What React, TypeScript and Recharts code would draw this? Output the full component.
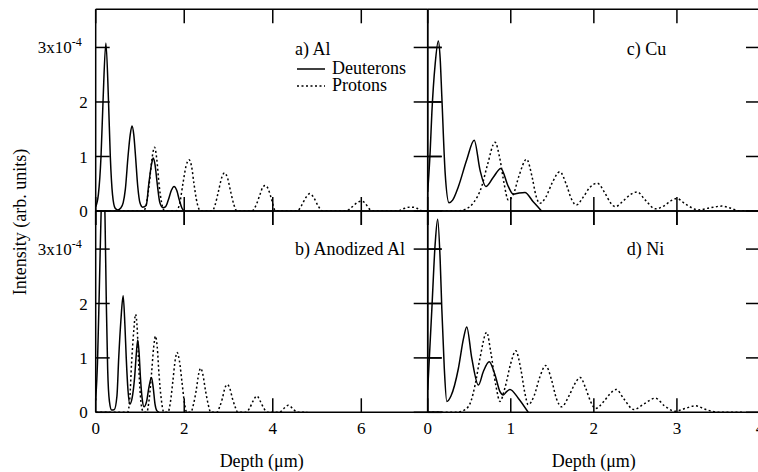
import { Line, LineChart, XAxis, YAxis } from "recharts";

type Pt = [number, number];

// depth (µm), intensity (x1e-4 arb. units)
const alDeuterons: Pt[] = [
  [0, 0.08], [0.06, 0.3], [0.12, 1.0], [0.165, 2.0], [0.23, 3.08], [0.29, 2.0], [0.33, 1.0], [0.38, 0.3], [0.44, 0.05], [0.5, 0.02],
  [0.56, 0.05], [0.62, 0.15], [0.67, 0.4], [0.73, 1.0], [0.78, 1.4], [0.82, 1.56], [0.86, 1.4], [0.9, 1.0], [0.95, 0.45], [1.0, 0.15], [1.06, 0.07],
  [1.14, 0.1], [1.2, 0.5], [1.26, 0.85], [1.3, 0.97], [1.34, 0.85], [1.39, 0.5], [1.45, 0.15], [1.52, 0.06],
  [1.58, 0.08], [1.64, 0.2], [1.71, 0.38], [1.77, 0.45], [1.83, 0.38], [1.89, 0.2], [1.95, 0.05], [2.0, 0],
];
const alProtons: Pt[] = [
  [0, 0], [1.08, 0], [1.15, 0.15], [1.21, 0.5], [1.27, 0.95], [1.33, 1.17], [1.38, 0.95], [1.43, 0.5], [1.49, 0.15], [1.56, 0],
  [1.82, 0], [1.9, 0.15], [1.97, 0.5], [2.04, 0.82], [2.11, 0.94], [2.17, 0.8], [2.22, 0.5], [2.29, 0.15], [2.37, 0],
  [2.63, 0], [2.7, 0.12], [2.77, 0.35], [2.85, 0.62], [2.91, 0.7], [2.98, 0.6], [3.05, 0.35], [3.12, 0.12], [3.19, 0],
  [3.53, 0], [3.63, 0.12], [3.71, 0.3], [3.77, 0.43], [3.83, 0.47], [3.9, 0.4], [3.97, 0.22], [4.06, 0],
  [4.55, 0], [4.65, 0.1], [4.75, 0.25], [4.84, 0.32], [4.93, 0.24], [5.02, 0.1], [5.12, 0],
  [5.65, 0], [5.8, 0.08], [5.92, 0.16], [6.0, 0.18], [6.08, 0.15], [6.15, 0.07], [6.25, 0],
  [6.82, 0], [6.95, 0.04], [7.08, 0.07], [7.18, 0.07], [7.28, 0.04], [7.38, 0], [7.45, 0],
];
const anDeuterons: Pt[] = [
  [0, 0.22], [0.04, 0.9], [0.08, 2.2], [0.12, 3.6], [0.17, 4.6], [0.21, 3.6], [0.24, 2.0], [0.27, 0.8], [0.31, 0.2], [0.36, 0.04],
  [0.42, 0.05], [0.48, 0.3], [0.52, 1.0], [0.57, 1.7], [0.62, 2.14], [0.66, 1.6], [0.69, 1.0], [0.73, 0.4], [0.77, 0.15],
  [0.82, 0.25], [0.88, 0.65], [0.92, 1.1], [0.95, 1.33], [0.98, 1.1], [1.01, 0.65], [1.05, 0.25], [1.09, 0.1],
  [1.15, 0.2], [1.2, 0.45], [1.26, 0.64], [1.3, 0.45], [1.34, 0.15], [1.38, 0.03], [1.43, 0],
];
const anProtons: Pt[] = [
  [0, 0], [0.72, 0], [0.77, 0.25], [0.81, 0.9], [0.86, 1.5], [0.9, 1.8], [0.94, 1.5], [0.97, 0.9], [1.01, 0.3], [1.06, 0.03], [1.1, 0],
  [1.15, 0], [1.21, 0.25], [1.26, 0.7], [1.31, 1.2], [1.35, 1.4], [1.39, 1.2], [1.43, 0.7], [1.48, 0.25], [1.54, 0],
  [1.63, 0], [1.69, 0.2], [1.74, 0.55], [1.8, 0.98], [1.84, 1.1], [1.89, 0.95], [1.95, 0.55], [2.0, 0.2], [2.06, 0],
  [2.15, 0], [2.21, 0.15], [2.27, 0.4], [2.33, 0.72], [2.37, 0.81], [2.42, 0.7], [2.48, 0.4], [2.54, 0.15], [2.6, 0],
  [2.74, 0], [2.8, 0.1], [2.86, 0.25], [2.92, 0.45], [2.97, 0.51], [3.03, 0.44], [3.09, 0.25], [3.15, 0.1], [3.21, 0],
  [3.4, 0], [3.48, 0.08], [3.55, 0.2], [3.64, 0.3], [3.72, 0.2], [3.8, 0.07], [3.88, 0],
  [4.15, 0], [4.25, 0.07], [4.35, 0.13], [4.45, 0.07], [4.55, 0], [4.78, 0],
];
const cuDeuterons: Pt[] = [
  [0, 0.35], [0.03, 1.1], [0.05, 1.8], [0.09, 2.7], [0.128, 3.12], [0.15, 2.8], [0.17, 2.1], [0.21, 0.7], [0.257, 0.15],
  [0.3, 0.2], [0.37, 0.45], [0.47, 0.94], [0.56, 1.3], [0.63, 0.75], [0.7, 0.45], [0.79, 0.62], [0.88, 0.78],
  [0.97, 0.45], [1.03, 0.31], [1.1, 0.33], [1.17, 0.34], [1.27, 0.17], [1.37, 0],
];
const cuProtons: Pt[] = [
  [0, 0], [0.35, 0], [0.45, 0.03], [0.55, 0.15], [0.65, 0.45], [0.72, 0.85], [0.81, 1.26], [0.87, 0.95], [0.92, 0.5], [0.97, 0.2],
  [1.03, 0.3], [1.1, 0.65], [1.19, 0.95], [1.26, 0.6], [1.3, 0.3], [1.35, 0.14], [1.42, 0.25], [1.5, 0.52], [1.59, 0.72],
  [1.67, 0.48], [1.73, 0.22], [1.79, 0.11], [1.87, 0.25], [1.95, 0.43], [2.04, 0.51], [2.13, 0.34], [2.2, 0.15], [2.26, 0.08],
  [2.35, 0.18], [2.44, 0.3], [2.52, 0.35], [2.62, 0.2], [2.74, 0.04], [2.85, 0.1], [2.93, 0.19], [3.0, 0.23], [3.1, 0.13],
  [3.26, 0.02], [3.4, 0.06], [3.54, 0.09], [3.65, 0.05], [3.75, 0], [3.95, 0],
];
const niDeuterons: Pt[] = [
  [0, 0.41], [0.05, 1.9], [0.09, 3.1], [0.12, 3.55], [0.15, 2.8], [0.17, 1.9], [0.2, 0.8], [0.23, 0.2], [0.28, 0.3],
  [0.37, 0.81], [0.43, 1.35], [0.47, 1.57], [0.53, 1.0], [0.61, 0.5], [0.67, 0.75], [0.74, 0.93], [0.81, 0.69],
  [0.87, 0.38], [0.91, 0.32], [0.95, 0.38], [0.99, 0.42], [1.09, 0.26], [1.21, 0],
];
const niProtons: Pt[] = [
  [0, 0], [0.35, 0], [0.45, 0.05], [0.52, 0.2], [0.57, 0.5], [0.63, 1.0], [0.71, 1.47], [0.76, 1.1], [0.82, 0.5], [0.87, 0.2],
  [0.93, 0.45], [1.0, 0.9], [1.06, 1.13], [1.12, 0.8], [1.17, 0.35], [1.21, 0.14], [1.28, 0.3], [1.35, 0.65], [1.42, 0.86],
  [1.49, 0.6], [1.55, 0.25], [1.61, 0.1], [1.7, 0.3], [1.77, 0.52], [1.835, 0.64], [1.9, 0.45], [1.96, 0.2], [2.02, 0.07],
  [2.12, 0.2], [2.2, 0.35], [2.27, 0.42], [2.36, 0.25], [2.48, 0.05], [2.6, 0.15], [2.74, 0.26], [2.85, 0.12], [2.98, 0.02],
  [3.1, 0.07], [3.22, 0.12], [3.35, 0.05], [3.5, 0], [3.8, 0],
];

const LEFT_X_TICKS = [0, 2, 4, 6];
const RIGHT_X_TICKS = [0, 1, 2, 3, 4];
const Y_TICKS = [0, 1, 2, 3];

const FONT = '"Liberation Serif", "Times New Roman", serif';
const W = 760;
const H = 472;
const COL_X = [95.7, 427.7, 760];
const ROW_Y = [9.3, 211, 412.3];
const AXIS = { stroke: "#000", strokeWidth: 1.5 };
const TICK_LEN = 14;

const toRows = (pts: Pt[]) => pts.map(([x, y]) => ({ x, y }));

// x, y come from the axis scale (tickSize 0, tickMargin 0); ticks point into the plot.
// Inner frame sides (shared with the neighbouring panel) draw the tick across both panels.
const makeTick =
  (side: "left" | "right" | "top" | "bottom", withLabel: boolean, both: boolean) =>
  (props: any) => {
    const x = Number(props.x);
    const y = Number(props.y);
    const value = props.payload?.value;
    const horizontal = side === "left" || side === "right";
    const dir = side === "left" || side === "top" ? 1 : -1;
    const a = both ? -TICK_LEN : 0;
    const b = TICK_LEN;
    const line = horizontal
      ? { x1: x + dir * a, x2: x + dir * b, y1: y, y2: y }
      : { x1: x, x2: x, y1: y + dir * a, y2: y + dir * b };
    let text = null;
    if (withLabel && side === "left") {
      text =
        value === 3 ? (
          <text x={x - 14} y={y} dy="0.355em" textAnchor="end" fill="#000" fontSize={17} fontFamily={FONT}>
            3x10<tspan dy={-7} fontSize={12}>-4</tspan>
          </text>
        ) : (
          <text x={x - 8} y={y} dy="0.355em" textAnchor="end" fill="#000" fontSize={17} fontFamily={FONT}>
            {value}
          </text>
        );
    }
    if (withLabel && side === "bottom") {
      text = (
        <text x={x} y={y + 10} dy="0.71em" textAnchor="middle" fill="#000" fontSize={17} fontFamily={FONT}>
          {value}
        </text>
      );
    }
    return (
      <g>
        <line {...line} stroke="#000" strokeWidth={1.5} />
        {text}
      </g>
    );
  };

function Panel({
  deuterons,
  protons,
  xMax,
  xTicks,
  col,
  row,
}: {
  deuterons: Pt[];
  protons: Pt[];
  xMax: number;
  xTicks: number[];
  col: number;
  row: number;
}) {
  const margin = {
    left: COL_X[col] - 1,
    right: W - COL_X[col + 1] - 1,
    top: ROW_Y[row] - 1,
    bottom: H - ROW_Y[row + 1] - 1,
  };
  const common = {
    allowDataOverflow: true,
    interval: 0 as const,
    tickSize: 0,
    tickMargin: 0,
    tickLine: false,
    axisLine: AXIS,
  };

  return (
    <div style={{ position: "absolute", left: 0, top: 0 }}>
      <LineChart width={W} height={H} margin={margin}>
        <XAxis
          {...common}
          xAxisId="b"
          type="number"
          dataKey="x"
          domain={[0, xMax]}
          ticks={xTicks}
          height={1}
          tick={makeTick("bottom", row === 1, row === 0)}
        />
        <XAxis
          {...common}
          xAxisId="t"
          orientation="top"
          type="number"
          dataKey="x"
          domain={[0, xMax]}
          ticks={xTicks}
          height={1}
          tick={makeTick("top", false, false)}
        />
        <YAxis
          {...common}
          yAxisId="l"
          type="number"
          domain={[0, 3.7]}
          ticks={Y_TICKS}
          width={1}
          tick={makeTick("left", col === 0, false)}
        />
        <YAxis
          {...common}
          yAxisId="r"
          orientation="right"
          type="number"
          domain={[0, 3.7]}
          ticks={Y_TICKS}
          width={1}
          tick={makeTick("right", false, col === 0)}
        />
        <Line
          xAxisId="t"
          yAxisId="r"
          data={toRows(protons)}
          dataKey="y"
          type="monotone"
          stroke="#000"
          strokeWidth={1.5}
          strokeDasharray="2 2.5"
          dot={false}
          isAnimationActive={false}
        />
        <Line
          xAxisId="b"
          yAxisId="l"
          data={toRows(deuterons)}
          dataKey="y"
          type="monotone"
          stroke="#000"
          strokeWidth={1.5}
          dot={false}
          isAnimationActive={false}
        />
      </LineChart>
    </div>
  );
}

export default function App() {
  const label = { fill: "#000", fontSize: 18, fontFamily: FONT };
  return (
    <div
      style={{
        position: "fixed",
        left: 0,
        top: 0,
        width: 758,
        height: 472,
        overflow: "hidden",
        background: "#fff",
      }}
    >
      <Panel deuterons={alDeuterons} protons={alProtons} xMax={7.5} xTicks={LEFT_X_TICKS} col={0} row={0} />
      <Panel deuterons={anDeuterons} protons={anProtons} xMax={7.5} xTicks={LEFT_X_TICKS} col={0} row={1} />
      <Panel deuterons={cuDeuterons} protons={cuProtons} xMax={4} xTicks={RIGHT_X_TICKS} col={1} row={0} />
      <Panel deuterons={niDeuterons} protons={niProtons} xMax={4} xTicks={RIGHT_X_TICKS} col={1} row={1} />
      <svg width={W} height={H} style={{ position: "absolute", left: 0, top: 0 }}>
        <text {...label} x={295} y={55}>a) Al</text>
        <line x1={297} x2={325} y1={69} y2={69} stroke="#000" strokeWidth={1.5} />
        <text {...label} x={332} y={73.5}>Deuterons</text>
        <line x1={297} x2={325} y1={86} y2={86} stroke="#000" strokeWidth={1.5} strokeDasharray="2 2.5" />
        <text {...label} x={332} y={91}>Protons</text>
        <text {...label} x={295} y={255}>b) Anodized Al</text>
        <text {...label} x={626.7} y={55}>c) Cu</text>
        <text {...label} x={626.7} y={255}>d) Ni</text>
        <text {...label} x={261.7} y={467} textAnchor="middle">Depth (μm)</text>
        <text {...label} x={593.8} y={467} textAnchor="middle">Depth (μm)</text>
        <text {...label} x={26} y={222} textAnchor="middle" transform="rotate(-90 26 222)">
          Intensity (arb. units)
        </text>
      </svg>
    </div>
  );
}
